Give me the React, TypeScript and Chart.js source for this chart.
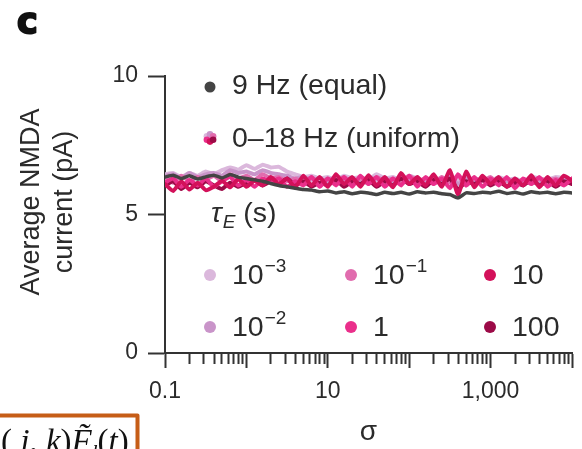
import React, { useEffect, useRef } from 'react';
import { Chart, registerables } from 'chart.js';

Chart.register(...registerables);

// ---------- data ----------
const sigma = [
  0.1, 0.1259, 0.1585, 0.1995, 0.2512, 0.3162, 0.3981, 0.5012, 0.631, 0.7943,
  1, 1.259, 1.585, 1.995, 2.512, 3.162, 3.981, 5.012, 6.31, 7.943,
  10, 12.59, 15.85, 19.95, 25.12, 31.62, 39.81, 50.12, 63.1, 79.43,
  100, 125.9, 158.5, 199.5, 251.2, 316.2, 398.1, 501.2, 631, 794.3,
  1000, 1259, 1585, 1995, 2512, 3162, 3981, 5012, 6310, 7943,
  10000,
];

const equal9Hz = [
  6.35, 6.42, 6.3, 6.4, 6.28, 6.36, 6.42, 6.32, 6.44, 6.35,
  6.3, 6.25, 6.2, 6.12, 6.05, 6.0, 5.95, 5.9, 5.88, 5.82,
  5.85, 5.78, 5.82, 5.75, 5.8, 5.78, 5.72, 5.8, 5.76, 5.8,
  5.74, 5.82, 5.78, 5.8, 5.75, 5.72, 5.6, 5.78, 5.76, 5.8,
  5.78, 5.84, 5.76, 5.8, 5.74, 5.82, 5.78, 5.8, 5.75, 5.8,
  5.78,
];

const uniformTau1e3 = [
  6.45, 6.5, 6.35, 6.5, 6.4, 6.55, 6.45, 6.6, 6.7, 6.62,
  6.78, 6.65, 6.8, 6.7, 6.72, 6.55, 6.45, 6.35, 6.4, 6.3,
  6.35, 6.25, 6.4, 6.3, 6.35, 6.25, 6.45, 6.3, 6.35, 6.25,
  6.4, 6.3, 6.2, 6.35, 6.25, 6.4, 6.2, 6.35, 6.25, 6.3,
  6.2, 6.35, 6.25, 6.3, 6.2, 6.35, 6.3, 6.25, 6.35, 6.3,
  6.25,
];

const uniformTau1e2 = [
  6.4, 6.45, 6.3, 6.5, 6.35, 6.45, 6.5, 6.4, 6.6, 6.5,
  6.55, 6.45, 6.6, 6.5, 6.45, 6.4, 6.3, 6.35, 6.25, 6.3,
  6.2, 6.35, 6.25, 6.3, 6.15, 6.35, 6.25, 6.3, 6.2, 6.35,
  6.25, 6.3, 6.15, 6.3, 6.2, 6.35, 6.1, 6.3, 6.2, 6.25,
  6.15, 6.3, 6.2, 6.25, 6.15, 6.3, 6.2, 6.25, 6.15, 6.3,
  6.2,
];

const uniformTau1e1 = [
  6.3, 6.15, 6.4, 6.2, 6.35, 6.25, 6.4, 6.2, 6.45, 6.3,
  6.4, 6.25, 6.45, 6.3, 6.35, 6.2, 6.3, 6.15, 6.35, 6.1,
  6.3, 6.2, 6.35, 6.15, 6.3, 6.1, 6.35, 6.2, 6.3, 6.15,
  6.4, 6.2, 6.3, 6.1, 6.35, 6.15, 6.4, 6.05, 6.3, 6.2,
  6.35, 6.1, 6.3, 6.15, 6.25, 6.1, 6.3, 6.2, 6.3, 6.15,
  6.25,
];

const uniformTau1 = [
  6.15, 6.3, 6.0, 6.25, 6.05, 6.3, 6.0, 6.2, 6.35, 6.05,
  6.25, 6.0, 6.3, 6.15, 6.3, 6.0, 6.2, 6.05, 6.35, 6.0,
  6.3, 6.05, 6.35, 6.0, 6.4, 6.1, 6.35, 6.0, 6.3, 6.05,
  6.4, 6.0, 6.35, 6.1, 6.3, 5.95, 6.45, 6.05, 6.35, 6.0,
  6.3, 6.05, 6.35, 5.95, 6.3, 6.1, 6.35, 6.0, 6.25, 6.05,
  6.3,
];

const uniformTau10 = [
  6.1, 5.85, 6.2, 5.9, 6.15, 5.88, 6.0, 6.22, 5.98, 6.28,
  6.0, 6.22, 6.05, 6.35, 6.1, 6.3, 5.98, 6.4, 6.05, 6.35,
  6.0, 6.45, 6.1, 6.35, 6.0, 6.42, 6.05, 6.35, 5.98, 6.5,
  6.1, 6.35, 6.05, 6.45, 6.0, 6.6, 5.72, 6.55, 5.98, 6.4,
  6.1, 6.35, 6.0, 6.3, 6.05, 6.42, 5.98, 6.35, 6.05, 6.4,
  6.22,
];

const uniformTau100 = [
  6.05, 6.2, 5.92, 6.15, 5.98, 6.2, 6.05, 5.92, 6.15, 6.0,
  6.15, 6.25, 6.05, 6.2, 6.1, 6.3, 6.05, 6.2, 6.0, 6.15,
  6.05, 6.25, 6.0, 6.2, 6.1, 6.25, 6.0, 6.2, 6.05, 6.3,
  6.1, 6.2, 6.0, 6.25, 6.1, 6.3, 5.9, 6.2, 6.1, 6.25,
  6.05, 6.2, 6.0, 6.15, 6.05, 6.25, 6.05, 6.2, 6.0, 6.2,
  6.1,
];

const tauBases = ['10', '10', '10', '1', '10', '100'];
const tauExponents = ['\u22123', '\u22122', '\u22121', '', '', ''];
const tauSeries = [uniformTau1e3, uniformTau1e2, uniformTau1e1, uniformTau1, uniformTau10, uniformTau100];
const tauColors = ['#dbb8dc', '#c994c9', '#e16cae', '#ea2f8b', '#d3115a', '#9c0a47'];
const legendTexts = ['9 Hz (equal)', '0\u201318 Hz (uniform)'];
const equalColor = '#444444';

const xLabelValues = [0.1, 10, 1000];
const xLabelTexts = ['0.1', '10', '1,000'];
const yTickValues = [0, 5, 10];
const yTitleLines = ['Average NMDA', 'current (pA)'];
const xTitle = '\u03c3';

// ---------- style ----------
const FONT = '"Liberation Sans", Arial, Helvetica, sans-serif';
const SERIF = '"Liberation Serif", "Times New Roman", serif';
const TEXT = '#2b2b2b';
const AXIS = '#333333';
const LEG = 28.5;

const isMajor = (v: number | undefined) => {
  if (v === undefined || v <= 0) return false;
  const l = Math.log10(v);
  return Math.abs(l - Math.round(l)) < 1e-6;
};

function xTicks() {
  const out: { value: number }[] = [];
  for (let d = -1; d <= 3; d++) {
    for (let m = 1; m <= 9; m++) out.push({ value: m * Math.pow(10, d) });
  }
  out.push({ value: 10000 });
  return out;
}

const decorPlugin = {
  id: 'decor',
  afterDraw(chart: any) {
    const ctx: CanvasRenderingContext2D = chart.ctx;
    ctx.save();
    ctx.textAlign = 'left';
    ctx.textBaseline = 'alphabetic';

    // panel label
    ctx.fillStyle = '#111';
    ctx.strokeStyle = '#111';
    ctx.lineWidth = 2;
    ctx.lineJoin = 'round';
    ctx.font = `bold 35px "DejaVu Sans", sans-serif`;
    ctx.strokeText('c', 17, 33);
    ctx.fillText('c', 17, 33);

    // y title
    ctx.fillStyle = TEXT;
    ctx.font = `27px ${FONT}`;
    ctx.textAlign = 'center';
    const ty = 202;
    [39, 72].forEach((bx, i) => {
      ctx.save();
      ctx.translate(bx, ty);
      ctx.rotate(-Math.PI / 2);
      ctx.fillText(yTitleLines[i], 0, 0);
      ctx.restore();
    });
    ctx.textAlign = 'left';

    // legend: equal
    ctx.fillStyle = equalColor;
    ctx.beginPath();
    ctx.arc(210, 87, 5.5, 0, Math.PI * 2);
    ctx.fill();
    ctx.fillStyle = TEXT;
    ctx.font = `${LEG}px ${FONT}`;
    ctx.fillText(legendTexts[0], 232, 94);

    // legend: uniform (cluster of dots)
    const cx = 210, cy = 138;
    const angles = [-150, -90, -30, 150, 90, 30];
    angles.forEach((a, i) => {
      const r = (a * Math.PI) / 180;
      ctx.fillStyle = tauColors[i];
      ctx.beginPath();
      ctx.arc(cx + Math.cos(r) * 3.6, cy + Math.sin(r) * 3.6, 3.3, 0, Math.PI * 2);
      ctx.fill();
    });
    ctx.fillStyle = TEXT;
    ctx.fillText(legendTexts[1], 232, 147);

    // tau_E (s)
    ctx.font = `italic ${LEG}px ${FONT}`;
    ctx.fillText('\u03c4', 211, 222);
    const w = ctx.measureText('\u03c4').width;
    ctx.font = `italic 19px ${FONT}`;
    ctx.fillText('E', 211 + w + 1, 228);
    const we = ctx.measureText('E').width;
    ctx.font = `${LEG}px ${FONT}`;
    ctx.fillText(' (s)', 211 + w + 1 + we, 222);

    // tau grid
    const colX = [210, 351, 490];
    const rowY = [284, 336];
    tauBases.forEach((base, i) => {
      const col = Math.floor(i / 2);
      const row = i % 2;
      const dx = colX[col];
      const by = rowY[row];
      ctx.fillStyle = tauColors[i];
      ctx.beginPath();
      ctx.arc(dx, by - 9, 6, 0, Math.PI * 2);
      ctx.fill();
      ctx.fillStyle = TEXT;
      ctx.font = `${LEG}px ${FONT}`;
      ctx.fillText(base, dx + 22, by);
      if (tauExponents[i]) {
        const bw = ctx.measureText(base).width;
        ctx.font = `19px ${FONT}`;
        ctx.fillText(tauExponents[i], dx + 22 + bw + 1, by - 12);
      }
    });

    // fragment of neighbouring panel (orange box)
    ctx.strokeStyle = '#c65d17';
    ctx.lineWidth = 4;
    ctx.strokeRect(-10, 415.5, 147.5, 60);
    ctx.fillStyle = '#111';
    let x = 1;
    const base = 452;
    const seg = (t: string, italic: boolean, size = 33, dy = 0) => {
      ctx.font = `${italic ? 'italic ' : ''}${size}px ${SERIF}`;
      ctx.fillText(t, x, base + dy);
      x += ctx.measureText(t).width;
    };
    seg('(', false);
    seg(' j', true);
    seg(', ', false);
    seg('k', true);
    seg(')', false);
    seg('F\u0303', true);
    seg('l', true, 21, 7);
    seg('(', false);
    seg('t', true);
    seg(')', false);

    ctx.restore();
  },
};

export default function App() {
  const ref = useRef<HTMLCanvasElement | null>(null);

  useEffect(() => {
    document.body.style.margin = '0';
    const canvas = ref.current;
    if (!canvas) return;

    const toPts = (arr: number[]) => sigma.map((s, i) => ({ x: s, y: arr[i] }));
    const line = (data: number[], color: string) => ({
      data: toPts(data),
      borderColor: color,
      backgroundColor: color,
      borderWidth: 4,
      pointRadius: 0,
      tension: 0.15,
      borderJoinStyle: 'round' as const,
      borderCapStyle: 'round' as const,
      fill: false,
    });

    // index 0 is drawn on top
    const drawOrder = [4, 3, 5, 2, 1, 0];
    const datasets: any[] = [
      { label: legendTexts[0], ...line(equal9Hz, equalColor), borderWidth: 3.5 },
      ...drawOrder.map((k) => ({
        label: `${legendTexts[1]} \u03c4=${tauBases[k]}${tauExponents[k]}`,
        ...line(tauSeries[k], tauColors[k]),
      })),
    ];

    const chart = new Chart(canvas, {
      type: 'line',
      data: { datasets },
      options: {
        animation: false,
        responsive: false,
        devicePixelRatio: 1,
        layout: { padding: { top: 76, left: 0, right: 0, bottom: 0 } },
        plugins: { legend: { display: false }, tooltip: { enabled: false } },
        scales: {
          x: {
            type: 'logarithmic',
            min: 0.1,
            max: 10000,
            afterFit: (s: any) => {
              s.height = 96;
            },
            afterBuildTicks: (s: any) => {
              s.ticks = xTicks();
            },
            ticks: {
              autoSkip: false,
              maxRotation: 0,
              minRotation: 0,
              padding: 10,
              color: TEXT,
              font: { family: FONT, size: 23 },
              callback: (v: any) => {
                const i = xLabelValues.findIndex((t) => Math.abs(t - Number(v)) < 1e-9 * Math.max(1, t));
                return i >= 0 ? xLabelTexts[i] : '';
              },
            },
            grid: {
              display: true,
              drawOnChartArea: false,
              drawTicks: true,
              tickLength: 15,
              tickWidth: 2,
              tickColor: AXIS,
              tickBorderDash: (c: any) => (isMajor(c.tick?.value) ? [] : [10, 40]),
            } as any,
            border: { display: true, color: AXIS, width: 2 },
            title: {
              display: true,
              text: xTitle,
              color: TEXT,
              font: { family: FONT, size: 28 },
              padding: { top: 0, bottom: 0 },
            },
          },
          y: {
            type: 'linear',
            min: 0,
            max: 10,
            afterFit: (s: any) => {
              s.width = 165;
            },
            afterBuildTicks: (s: any) => {
              s.ticks = yTickValues.map((v) => ({ value: v }));
            },
            ticks: {
              padding: 10,
              color: TEXT,
              font: { family: FONT, size: 23 },
            },
            grid: {
              display: true,
              drawOnChartArea: false,
              drawTicks: true,
              tickLength: 17,
              tickWidth: 2,
              tickColor: AXIS,
            },
            border: { display: true, color: AXIS, width: 2 },
          },
        },
      },
      plugins: [decorPlugin],
    });

    return () => chart.destroy();
  }, []);

  return (
    <div style={{ width: 582, height: 449, background: '#fff' }}>
      <canvas ref={ref} width={582} height={449} style={{ display: 'block' }} />
    </div>
  );
}
